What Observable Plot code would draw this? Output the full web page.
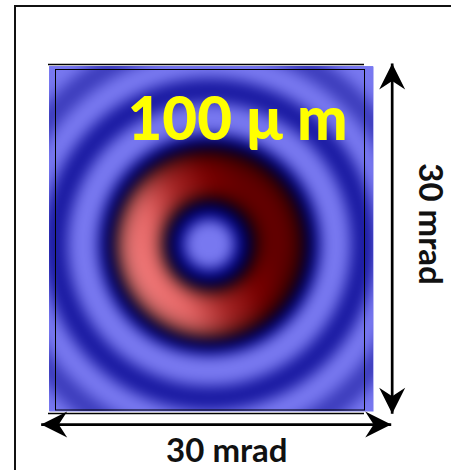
<!DOCTYPE html>
<html>
<head>
<meta charset="utf-8">
<script src="https://cdn.jsdelivr.net/npm/d3@7"></script>
<script src="https://cdn.jsdelivr.net/npm/@observablehq/plot@0.6"></script>
<style>
html, body { margin: 0; padding: 0; background: #fff; }
#wrap { position: relative; width: 451px; height: 470px; overflow: hidden; }
#chart { position: absolute; left: 0; top: 0; }
#box { position: absolute; left: 14px; top: 5px; width: 600px; height: 600px; border-left: 2px solid #111; border-top: 2px solid #111; pointer-events: none; }
</style>
</head>
<body>
<div id="wrap"><div id="chart"></div><div id="box"></div></div>
<script>
// ---- data (mrad) ----
// concentric intensity bands of the far-field pattern, outer radius of each band
const ringRadius = [23.1, 19.9, 17.8, 15.4, 13.1, 10.3, 9.2, 8.6, 8.6, 4.3, 3.6, 2.3];
const ringLevel  = ["light", "mid", "light", "dark", "light", "navy", "black", "red", "shade", "black", "navy", "light"];
const ringCenterX = -0.2;
const ringCenterY = -0.5;

// intensity levels and their colours
const levelNames  = ["light", "mid", "dark", "navy", "black", "red", "shade"];
const levelColors = ["#7878f0", "#3c3cbc", "#1a1aa2", "#000080", "#000008", "url(#redGrad)", "url(#shadeGrad)"];

// edges of the picture (y, mrad)
const edgeY = [16, -16];

// dimension arrows (30 mrad spans)
const arrowX1 = [-15.77, 16.73];
const arrowY1 = [-17.21, -16.22];
const arrowX2 = [16.64, 16.73];
const arrowY2 = [-17.21, 16.28];

// labels
const labelText = ["100 μ m", "30 mrad", "30 mrad"];
const labelX = [2.41, 1.42, 20.2];
const labelY = [10.92, -19.75, 1.39];
const labelKind = ["size", "spanX", "spanY"];

// ---- build tables ----
const rings = ringRadius.map((r, i) => ({x: ringCenterX, y: ringCenterY, r, level: ringLevel[i], order: i}));
const arrows = arrowX1.map((x1, i) => ({x1, y1: arrowY1[i], x2: arrowX2[i], y2: arrowY2[i]}));
const deg = (dx, dy) => Math.atan2(-dy, dx) * 180 / Math.PI;
const heads = arrows.flatMap(a => [
  {x: a.x1, y: a.y1, angle: deg(a.x1 - a.x2, a.y1 - a.y2)},
  {x: a.x2, y: a.y2, angle: deg(a.x2 - a.x1, a.y2 - a.y1)}
]);
const labels = labelText.map((t, i) => ({t, x: labelX[i], y: labelY[i], kind: labelKind[i]}));

const stealth = {
  draw(ctx, size) {
    const r = Math.sqrt(size / Math.PI);
    ctx.moveTo(0, 0);
    ctx.lineTo(-2 * r, -r);
    ctx.lineTo(-1.35 * r, 0);
    ctx.lineTo(-2 * r, r);
    ctx.closePath();
  }
};

const font = "Lato, 'Open Sans', 'DejaVu Sans', sans-serif";

const svg = Plot.plot({
  width: 451,
  height: 470,
  marginLeft: 49,
  marginRight: 78,
  marginTop: 66,
  marginBottom: 59,
  style: {background: "transparent", overflow: "visible"},
  x: {domain: [-15, 15], axis: null},
  y: {domain: [-16, 16], axis: null},
  r: {type: "linear", domain: [0, 15], range: [0, 162]},
  color: {type: "ordinal", domain: levelNames, range: levelColors},
  marks: [
    Plot.frame({fill: "#7878f0", stroke: null}),
    Plot.dot(rings, {x: "x", y: "y", r: "r", fill: "level", sort: "order", clip: true, ariaLabel: "rings", imageFilter: "blur(7px)"}),
    Plot.frame({stroke: "#000", strokeWidth: 1, insetLeft: 6, insetTop: 3, insetRight: 9, insetBottom: 1.5}),
    Plot.ruleY(edgeY.filter(v => v > 0), {stroke: "#000", strokeWidth: 1.5, dy: -2, insetLeft: -1, insetRight: 9}),
    Plot.ruleY(edgeY.filter(v => v < 0), {stroke: "#000", strokeWidth: 1.5, dy: 2, insetLeft: -1, insetRight: 9}),
    Plot.link(arrows, {x1: "x1", y1: "y1", x2: "x2", y2: "y2", stroke: "#000", strokeWidth: 2.7}),
    Plot.dot(heads, {x: "x", y: "y", r: 13, rotate: "angle", symbol: stealth, fill: "#000", stroke: null}),
    Plot.text(labels.filter(d => d.kind === "size"), {x: "x", y: "y", text: "t", fill: "#ffff00", fontSize: 60, fontWeight: 900, fontFamily: font}),
    Plot.text(labels.filter(d => d.kind === "spanX"), {x: "x", y: "y", text: "t", fill: "#111", fontSize: 33, fontWeight: "bold", fontFamily: font}),
    Plot.text(labels.filter(d => d.kind === "spanY"), {x: "x", y: "y", text: "t", fill: "#111", fontSize: 33, fontWeight: "bold", fontFamily: font, rotate: 90})
  ]
});

// gradients used by the red band, blur on the ring pattern
const defs = d3.select(svg).insert("defs", ":first-child");
const g = defs.append("linearGradient").attr("id", "redGrad")
  .attr("x1", 0.05).attr("y1", 0.65).attr("x2", 0.75).attr("y2", 0.35);
[[0, "#ff8484"], [0.3, "#ee6a6a"], [0.55, "#aa2626"], [0.8, "#7c0000"], [1, "#660000"]]
  .forEach(([o, c]) => g.append("stop").attr("offset", o).attr("stop-color", c));
const s = defs.append("radialGradient").attr("id", "shadeGrad");
[[0.45, 0.55], [0.6, 0.1], [0.72, 0], [0.86, 0.12], [1, 0.5]]
  .forEach(([o, a]) => s.append("stop").attr("offset", o).attr("stop-color", "#000").attr("stop-opacity", a));
d3.select(svg).selectAll('g[aria-label="rings"]').style("filter", "blur(7px)");

document.getElementById("chart").appendChild(svg);
</script>
</body>
</html>
